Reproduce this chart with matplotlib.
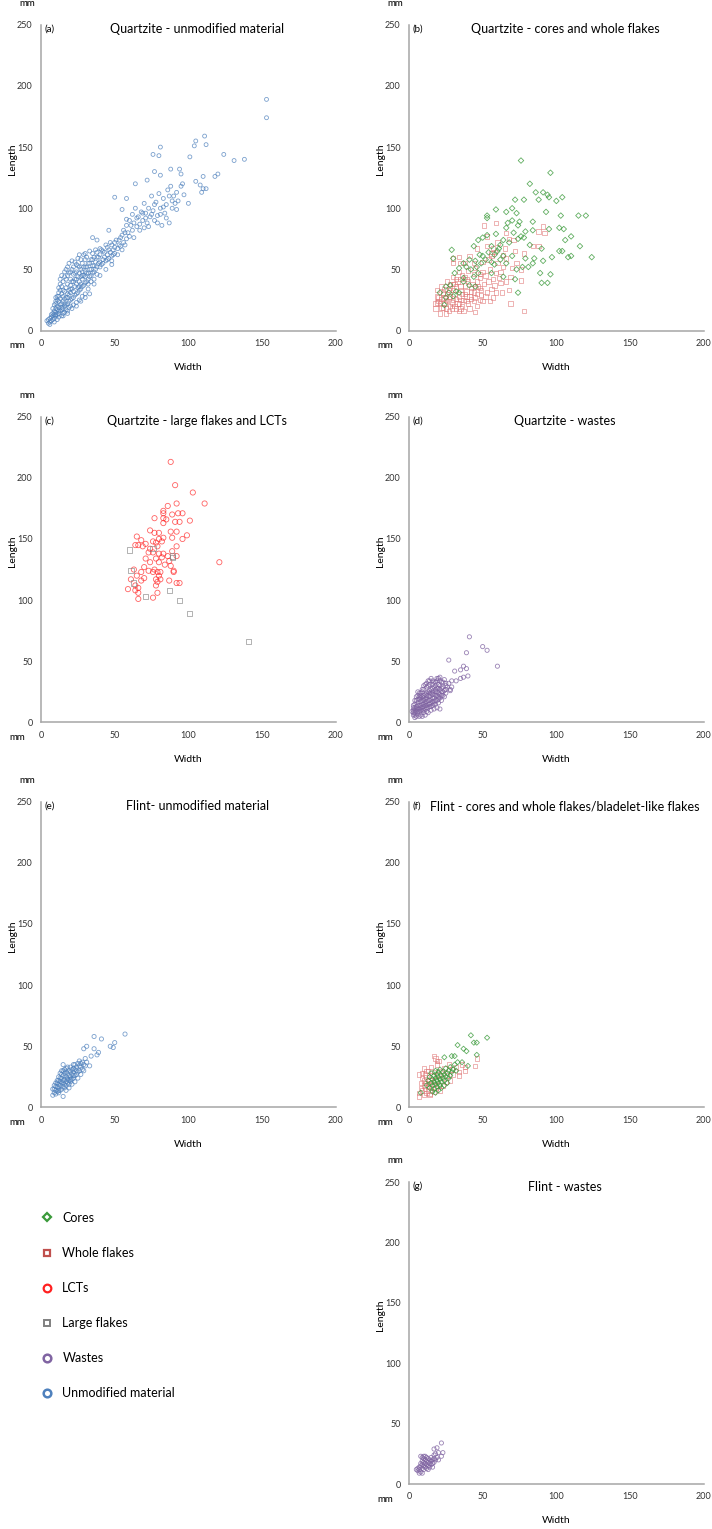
import numpy as np
from matplotlib import pyplot as plt
from matplotlib.lines import Line2D

plt.rcParams['font.family'] = ['Lato', 'DejaVu Sans']

# ---- data (width, length) in mm ----
# (a) quartzite unmodified material
qz_unmod = [
    (4,8),(5,9),(5,6),(6,10),(6,7),(6,5),(7,11),(7,8),(7,13),(8,12),(8,9),(8,14),(9,10),(9,13),(9,16),(9,7),
    (10,12),(10,15),(10,18),(10,22),(10,27),(11,13),(11,17),(11,20),(11,9),(11,25),(12,14),(12,19),(12,24),
    (12,28),(12,11),(12,31),(13,16),(13,21),(13,26),(13,33),(13,38),(14,17),(14,22),(14,30),(14,36),(14,12),
    (15,18),(15,24),(15,28),(15,40),(15,14),(15,33),(16,20),(16,26),(16,32),(16,44),(16,15),(17,21),(17,27),
    (17,35),(17,17),(17,42),(18,22),(18,30),(18,38),(18,45),(18,16),(19,24),(19,29),(19,33),(19,19),(19,47),
    (20,25),(20,31),(20,37),(20,42),(20,20),(21,26),(21,34),(21,40),(21,50),(22,27),(22,32),(22,46),(22,21),
    (22,52),(23,29),(23,36),(23,42),(23,56),(24,30),(24,38),(24,48),(24,23),(25,31),(25,35),(25,44),(25,53),
    (26,33),(26,40),(26,47),(26,25),(27,34),(27,38),(27,50),(27,58),(28,36),(28,42),(28,55),(28,28),(29,37),
    (29,45),(29,62),(30,39),(30,48),(30,58),(30,30),(31,40),(31,52),(31,60),(32,42),(32,47),(32,34),(33,44),
    (33,55),(33,65),(34,45),(34,50),(35,47),(35,58),(35,63),(36,48),(36,53),(37,50),(37,66),(38,52),(38,60),
    (39,55),(40,56),(40,62),(41,54),(42,58),(42,65),(43,60),(44,57),(45,62),(45,68),(46,59),(47,64),(48,61),
    (48,70),(49,66),(50,63),(50,72),
    (8,18),(9,21),(10,24),(11,28),(12,35),(13,42),(14,45),(16,48),(17,50),(18,52),(19,55),(20,48),(22,40),
    (23,47),(24,54),(25,59),(26,52),(27,44),(28,48),(29,52),(30,44),(31,47),(32,55),(33,50),(34,58),(35,53),
    (36,60),(37,56),(38,64),(39,60),(40,52),(41,66),(42,55),(43,64),(44,70),(45,58),(46,66),(47,72),(48,57),
    (49,62),(50,68),(51,74),(52,62),(53,70),(54,76),(55,66),(56,82),(57,70),(59,80),(61,86),(63,76),(65,92),
    (67,82),(69,96),(71,92),(73,85),(75,95),(77,103),(79,88),(81,95),(83,101),(85,92),(87,110),(89,106),
    (91,104),(24,42),(26,36),(28,45),(30,52),(32,38),(34,40),(36,42),(38,46),(20,34),(18,27),(16,22),(14,19),
    (12,16),(10,13),(15,12),(18,14),(21,18),(24,20),(27,24),(30,27),(33,30),(36,38),(40,45),(44,50),(48,54),
    (52,67),(53,74),(54,69),(55,78),(56,72),(57,80),(58,75),(58,86),(60,77),(60,90),(62,82),(62,95),(63,88),
    (64,100),(65,85),(66,93),(67,87),(68,97),(69,90),(70,84),(70,104),(71,96),(72,88),(73,100),(74,93),
    (75,110),(76,98),(77,90),(78,105),(79,94),(80,112),(81,100),(82,86),(83,108),(84,96),(85,103),(86,115),
    (87,88),(88,118),(89,100),(90,110),(92,113),(93,106),(95,118),(97,111),
    (153,189),(153,174),(111,159),(105,155),(112,152),(104,151),(81,150),(76,144),(80,143),(101,142),
    (124,144),(131,139),(138,140),(120,128),(118,126),(110,126),(88,132),(94,132),(95,128),(77,130),(81,127),
    (72,123),(64,120),(105,122),(108,119),(110,116),(112,116),(109,113),(100,104),(92,99),(96,120),(50,109),
    (58,108),(55,99),(58,91),(46,82),(35,76),(38,74),(40,67),(30,63),(26,62),(21,57),
]

# (b) quartzite cores and whole flakes
qz_cores = [
    (76,139),(96,129),(82,120),(86,113),(91,113),(94,111),(95,109),(100,106),(104,109),(88,107),(78,107),
    (72,107),(70,100),(59,99),(73,96),(66,97),(115,94),(120,94),(103,94),(93,97),(84,89),(75,89),(67,88),
    (53,94),(53,92),(102,84),(105,83),(95,83),(79,81),(84,82),(71,80),(76,77),(59,79),(50,76),(47,74),
    (110,77),(106,74),(116,69),(64,74),(56,69),(61,67),(82,70),(90,67),(102,65),(104,65),(97,60),(108,60),
    (110,61),(124,60),(85,59),(79,59),(70,61),(64,61),(58,62),(50,61),(45,57),(29,66),(30,59),(91,57),(84,55),
    (77,52),(81,52),(89,47),(96,46),(90,39),(94,39),(74,31),(39,52),(37,43),(28,37),(25,36),(25,27),(24,21),
    (32,32),(45,36),(47,47),(56,47),(64,44),(72,42),(53,78),(44,69),(41,58),(34,51),(31,47),(37,55),(49,55),
    (56,56),(66,55),(73,50),(21,31),(27,31),(30,28),(34,31),(41,37),(37,40),(62,70),(68,72),(74,75),(60,65),
    (52,58),(46,52),(66,84),(70,90),(74,86),(78,76),(42,50),(48,62),(54,64),(62,58),(58,54),(44,44),
]
qz_flakes = [
    (78,16),(69,22),(68,33),(66,40),(76,41),(76,50),(70,51),(64,52),(66,59),(72,65),(84,69),(88,69),(92,80),
    (91,85),(88,81),(59,88),(51,86),(53,77),(60,72),(57,67),(56,61),(50,56),(45,51),(45,36),(45,15),(39,24),
    (34,16),(30,59),(34,60),(59,47),(58,37),(59,31),(55,24),(48,25),(41,18),(32,18),(25,14),(21,14),(18,18),
    (20,27),(22,36),(26,40),(30,44),(34,48),(40,49),(44,46),(48,43),(54,40),(49,33),(44,31),(39,32),(35,36),
    (30,33),(25,25),(29,23),(35,25),(39,28),(45,27),(50,24),(57,27),(63,31),(56,63),(53,69),(46,67),(41,61),
    (38,55),(35,42),(31,38),(19,33),(23,31),(19,23),(23,19),(28,20),(37,16),(30,55),(35,55),(66,80),(71,74),
    (78,63),(73,55),(69,44),(61,43),(27,28),(32,26),(36,30),(42,35),(28,35),(33,40),(38,44),(24,22),(46,40),
    (21,22),(22,26),(23,30),(24,34),(25,18),(26,24),(27,33),(28,38),(29,18),(30,25),(31,30),(32,36),(33,22),
    (34,28),(35,33),(36,20),(37,25),(38,37),(39,42),(40,22),(41,28),(42,32),(43,38),(44,24),(46,30),(47,36),
    (48,46),(49,29),(51,38),(52,45),(53,31),(55,50),(57,42),(60,55),(62,48),(64,62),(26,30),(28,28),(30,38),
    (32,42),(34,22),(36,45),(38,30),(40,40),(42,26),(44,55),(46,20),(48,35),(50,48),(52,28),(54,58),(56,34),
    (58,64),(62,39),(65,67),(68,75),(24,27),(27,16),(31,20),(35,18),(22,19),(20,24),(18,22),(19,28),
]

# (c) quartzite large flakes and LCTs
qz_lct = [
    (88,213),(91,194),(103,188),(111,179),(92,179),(86,177),(83,173),(83,171),(93,171),(96,171),(89,170),
    (77,167),(83,167),(85,166),(101,165),(94,164),(91,164),(83,163),(74,157),(77,155),(80,155),(88,156),
    (92,156),(99,153),(96,150),(65,152),(68,149),(80,150),(83,151),(89,151),(76,148),(78,147),(82,148),
    (71,146),(64,145),(66,145),(69,144),(79,144),(92,144),(74,142),(76,139),(73,139),(83,138),(80,138),
    (89,140),(86,136),(92,136),(82,135),(71,134),(78,134),(87,132),(80,131),(74,131),(84,129),(88,128),
    (90,124),(90,123),(77,125),(63,125),(70,127),(73,124),(76,123),(79,123),(81,123),(80,120),(68,123),
    (65,120),(61,117),(70,118),(78,117),(81,117),(87,116),(92,114),(94,114),(68,116),(79,115),(64,112),
    (78,112),(59,109),(66,110),(64,108),(66,106),(79,106),(66,101),(76,102),(121,131),
]
qz_large_flakes = [
    (60,141),(61,124),(63,114),(71,103),(87,108),(94,100),(101,89),(141,66),(89,136),(89,135),(76,142),
]

# (d) quartzite wastes
qz_wastes = [
    (41,70),(50,62),(53,59),(39,57),(60,46),(27,51),(37,46),(39,44),(35,43),(31,42),(40,38),(37,37),(35,36),
    (32,34),(29,34),(28,27),(29,29),(25,30),(21,37),(19,36),
    (3,6),(4,8),(4,12),(4,15),(5,5),(5,9),(5,13),(6,7),(6,11),(6,16),(6,22),(7,9),(7,14),(7,19),(8,6),(8,12),
    (8,17),(8,24),(9,10),(9,15),(9,21),(10,8),(10,13),(10,18),(10,27),(11,11),(11,16),(11,23),(12,9),(12,14),
    (12,20),(12,29),(13,12),(13,18),(13,25),(14,15),(14,21),(14,31),(15,13),(15,19),(15,27),(16,17),(16,23),
    (16,34),(17,15),(17,20),(17,29),(18,18),(18,25),(18,33),(19,22),(19,28),(20,16),(20,24),(20,31),(20,36),
    (21,20),(21,27),(22,25),(22,33),(23,29),(24,26),(24,35),(25,32),(26,29),(11,31),(13,34),(15,36),(9,25),
    (7,24),(5,18),(6,25),(10,10),(8,14),(12,17),(14,18),(16,20),(18,22),(20,21),(22,22),(19,12),(21,11),
    (17,11),(15,10),(13,8),(11,6),(9,5),(7,5),(3,10),(3,14),(4,4),(14,26),(16,28),(18,30),(12,24),(10,22),
    (8,20),(13,30),(23,22),(25,24),(27,32),(28,26),
    (2,9),(3,8),(4,10),(5,11),(6,9),(7,11),(8,10),(9,12),(10,15),(11,14),(12,12),(13,15),(14,13),(15,16),
    (16,14),(17,17),(18,15),(19,18),(20,19),(21,23),(22,18),(23,25),(24,21),(25,27),(4,18),(5,21),(6,19),
    (7,21),(8,22),(9,18),(10,20),(11,19),(12,22),(13,22),(14,24),(15,24),(16,25),(17,23),(18,27),(19,25),
    (20,28),(21,30),(22,28),(9,27),(10,30),(12,32),(14,34),(16,31),(17,33),(19,34),(21,34),(23,33),(6,14),
    (3,12),(4,6),
]

# (e) flint unmodified material
fl_unmod = [
    (57,60),(36,58),(41,56),(50,53),(47,50),(49,49),(31,50),(29,48),(36,48),(39,45),(38,43),(34,42),(33,34),
    (31,37),(27,36),(15,35),(15,9),
    (8,10),(8,15),(9,12),(9,18),(10,11),(10,14),(10,20),(11,13),(11,17),(11,22),(12,12),(12,16),(12,19),
    (12,25),(13,14),(13,18),(13,21),(13,28),(14,15),(14,20),(14,24),(14,30),(15,17),(15,22),(15,26),(16,16),
    (16,19),(16,23),(16,28),(17,18),(17,21),(17,25),(17,32),(18,20),(18,24),(18,28),(19,19),(19,22),(19,26),
    (19,30),(20,21),(20,25),(20,33),(21,23),(21,27),(22,24),(22,29),(22,35),(23,26),(23,31),(24,27),(24,33),
    (25,29),(25,36),(26,30),(27,33),(28,31),(28,37),(29,35),(30,34),(11,20),(13,24),(15,30),(17,29),(12,22),
    (14,27),(16,31),(18,33),(20,29),(21,31),(23,35),(10,17),(9,15),(15,20),(18,23),(24,30),(26,34),(20,23),
    (22,26),(12,14),(19,16),(21,19),(23,21),(25,24),(27,27),(29,30),(17,14),(22,32),(26,38),(30,40),
]

# (f) flint cores and whole flakes / bladelet-like flakes
fl_cores = [
    (42,59),(53,57),(44,53),(46,53),(33,51),(46,43),(37,48),(39,46),(29,42),(31,42),(24,41),(40,34),(36,37),
    (33,37),(28,26),(8,12),
    (12,18),(13,22),(14,16),(14,25),(15,20),(15,28),(16,18),(16,23),(17,15),(17,21),(17,26),(18,19),(18,24),
    (18,30),(19,17),(19,22),(19,27),(20,20),(20,25),(20,29),(21,18),(21,23),(21,31),(22,21),(22,26),(23,24),
    (23,29),(24,22),(24,27),(25,25),(25,32),(26,28),(27,24),(27,30),(28,33),(29,29),(30,31),(31,35),(32,30),
    (20,14),(18,12),(16,13),(22,16),(24,18),(26,20),
]
fl_flakes = [
    (17,42),(19,38),(46,40),(45,34),(38,30),(34,26),(7,9),(14,10),(10,32),(7,27),
    (7,12),(8,16),(8,20),(9,14),(9,24),(10,10),(10,18),(10,22),(11,15),(11,27),(12,12),(12,20),(12,25),
    (13,14),(13,30),(14,11),(14,19),(14,22),(15,16),(15,33),(16,21),(16,26),(17,13),(17,29),(18,16),(18,22),
    (19,35),(20,18),(20,27),(21,14),(21,24),(22,30),(23,18),(24,32),(25,21),(26,26),(27,35),(28,22),(29,31),
    (30,27),(32,33),(34,29),(36,35),(38,33),(9,28),(11,20),(13,17),(12,30),(20,38),(18,40),
]

# (g) flint wastes
fl_wastes = [
    (22,34),(19,30),(17,29),(23,26),(22,23),(8,23),(10,23),(5,12),(7,9),(9,9),
    (6,13),(6,11),(7,14),(7,12),(8,15),(8,10),(8,17),(9,13),(9,16),(9,19),(10,12),(10,15),(10,18),(10,21),
    (11,14),(11,17),(11,20),(12,13),(12,16),(12,19),(12,22),(13,15),(13,18),(13,21),(14,14),(14,17),(14,20),
    (15,16),(15,19),(15,22),(16,17),(16,20),(17,18),(17,21),(17,24),(18,20),(18,25),(19,22),(20,20),(20,26),
    (11,23),(9,22),(13,12),(16,14),
]

ticks_x = [0, 50, 100, 150, 200]
ticks_y = [0, 50, 100, 150, 200, 250]

# colours (Excel-like)
C_UNMOD = '#4f81bd'
C_FLAKE = '#c0504d'
C_FLAKE_PT = '#e07878'
C_CORE = '#3a9a3a'
C_LCT = '#ff2020'
C_LARGE = '#808080'
C_WASTE = '#8064a2'


def style_axes(ax, tag, title):
    ax.set_xlim(0, 200)
    ax.set_ylim(0, 250)
    ax.set_xticks(ticks_x)
    ax.set_yticks(ticks_y)
    ax.tick_params(length=0, labelsize=6.5, colors='#333333', pad=6)
    for s in ['top', 'right']:
        ax.spines[s].set_visible(False)
    for s in ['left', 'bottom']:
        ax.spines[s].set_color('#a6a6a6')
        ax.spines[s].set_linewidth(1.1)
    ax.text(0.012, 0.985, tag, transform=ax.transAxes, fontsize=7, va='center', ha='left')
    ax.text(0.53, 0.985, title, transform=ax.transAxes, fontsize=9, va='center', ha='center')
    ax.text(-0.047, 1.07, 'mm', transform=ax.transAxes, fontsize=7, va='center', ha='center')
    ax.text(-0.08, -0.05, 'mm', transform=ax.transAxes, fontsize=7, va='center', ha='center')
    ax.set_xlabel('Width', fontsize=7.5)
    ax.set_ylabel('Length', fontsize=7.5)
    ax.xaxis.set_label_coords(0.5, -0.105)
    ax.yaxis.set_label_coords(-0.08, 0.56)


def pts(ax, data, marker, color, size, alpha=0.75):
    arr = np.array(data, dtype=float)
    ax.scatter(arr[:, 0], arr[:, 1], s=size, marker=marker, facecolors='none',
               edgecolors=color, linewidths=0.6, alpha=alpha)


fig = plt.figure(figsize=(7.12, 15.29), dpi=100)

left_x = 0.0576
right_x = 0.5744
w = 0.414
h = 0.200
rows = [0.7838, 0.5275, 0.2757, 0.0294]

ax_a = fig.add_axes([left_x, rows[0], w, h])
pts(ax_a, qz_unmod, 'o', C_UNMOD, 8)
style_axes(ax_a, '(a)', 'Quartzite - unmodified material')

ax_b = fig.add_axes([right_x, rows[0], w, h])
pts(ax_b, qz_flakes, 's', C_FLAKE_PT, 10, 0.65)
pts(ax_b, qz_cores, 'D', C_CORE, 8, 0.8)
style_axes(ax_b, '(b)', 'Quartzite - cores and whole flakes')

ax_c = fig.add_axes([left_x, rows[1], w, h])
pts(ax_c, qz_lct, 'o', C_LCT, 14, 0.7)
pts(ax_c, qz_large_flakes, 's', C_LARGE, 14, 0.7)
style_axes(ax_c, '(c)', 'Quartzite - large flakes and LCTs')

ax_d = fig.add_axes([right_x, rows[1], w, h])
pts(ax_d, qz_wastes, 'o', C_WASTE, 9, 0.8)
style_axes(ax_d, '(d)', 'Quartzite - wastes')

ax_e = fig.add_axes([left_x, rows[2], w, h])
pts(ax_e, fl_unmod, 'o', C_UNMOD, 9)
style_axes(ax_e, '(e)', 'Flint- unmodified material')

ax_f = fig.add_axes([right_x, rows[2], w, h])
pts(ax_f, fl_flakes, 's', C_FLAKE_PT, 10, 0.65)
pts(ax_f, fl_cores, 'D', C_CORE, 7, 0.8)
style_axes(ax_f, '(f)', 'Flint - cores and whole flakes/bladelet-like flakes')

ax_g = fig.add_axes([right_x, rows[3], w, 0.1975])
pts(ax_g, fl_wastes, 'o', C_WASTE, 9, 0.8)
style_axes(ax_g, '(g)', 'Flint - wastes')

# legend in the empty bottom-left cell
handles = [
    Line2D([], [], ls='none', marker='D', ms=4.5, mfc='none', mec=C_CORE, mew=1.6),
    Line2D([], [], ls='none', marker='s', ms=5, mfc='none', mec=C_FLAKE, mew=1.6),
    Line2D([], [], ls='none', marker='o', ms=5.5, mfc='none', mec=C_LCT, mew=1.6),
    Line2D([], [], ls='none', marker='s', ms=5, mfc='none', mec=C_LARGE, mew=1.4),
    Line2D([], [], ls='none', marker='o', ms=5.5, mfc='none', mec=C_WASTE, mew=1.8),
    Line2D([], [], ls='none', marker='o', ms=5.5, mfc='none', mec=C_UNMOD, mew=1.8),
]
labels = ['Cores', 'Whole flakes', 'LCTs', 'Large flakes', 'Wastes', 'Unmodified material']
fig.legend(handles, labels, loc='upper left', bbox_to_anchor=(0.041, 0.2148), frameon=False,
           fontsize=9, labelspacing=1.85, handlelength=1.0, handletextpad=0.75)

fig.savefig('out.png', dpi=100)
